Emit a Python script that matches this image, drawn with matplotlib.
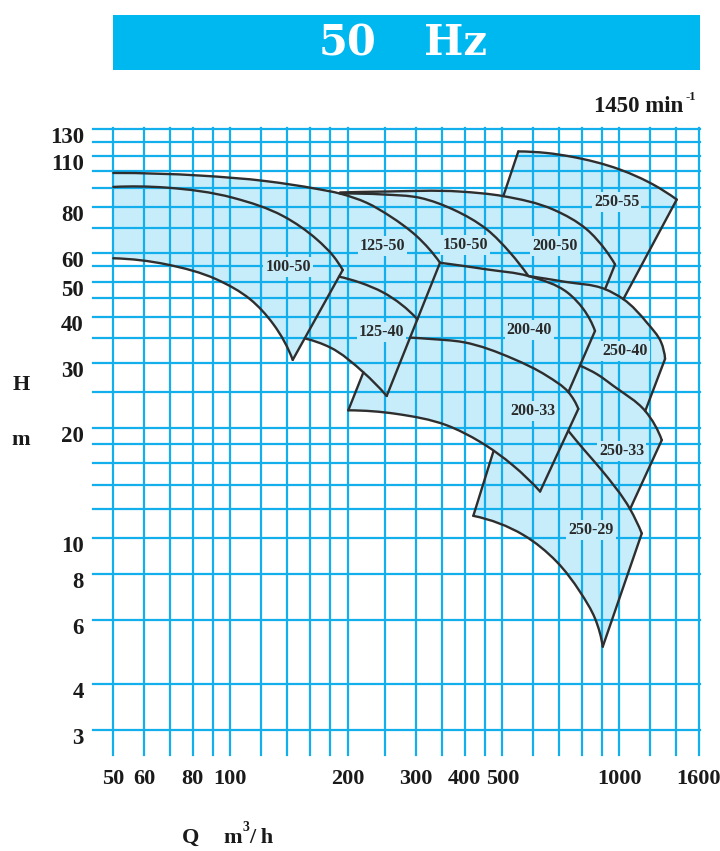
import numpy as np
import matplotlib
matplotlib.use("Agg")
import matplotlib.pyplot as plt
from matplotlib.patches import PathPatch, Rectangle
from matplotlib.path import Path

# ---------------------------------------------------------------- data
# grid lines and tick labels
q_grid = [50, 60, 70, 80, 90, 100, 120, 140, 160, 180, 200, 250, 300, 350,
          400, 450, 500, 600, 700, 800, 900, 1000, 1200, 1400, 1600]
h_grid = [3, 4, 6, 8, 10, 12, 14, 16, 18, 20, 25, 30, 35, 40, 45, 50, 55,
          60, 70, 80, 90, 100, 110, 120, 130]
q_ticks = [50, 60, 80, 100, 200, 300, 400, 500, 1000, 1600]
h_ticks = [3, 4, 6, 8, 10, 20, 30, 40, 50, 60, 80, 110, 130]

# H-Q boundary curves of the pump ranges (Q in m3/h, H in m)
q_top_125_50 = [50, 83.5, 124, 166.7, 191.3, 224.1, 257.2, 301.2, 345.8]
h_top_125_50 = [98.9, 97.3, 93.9, 89.5, 86.9, 82.0, 75.4, 66.5, 56.3]

q_top_100_50 = [50, 68.6, 101.7, 136.8, 166.7, 183.9, 194.4]
h_top_100_50 = [90.6, 90.2, 84.6, 75.4, 65.2, 58.7, 53.8]

q_bot_100_50 = [50, 68.6, 92.2, 112.3, 128.9, 144.6]
h_bot_100_50 = [57.9, 55.7, 50.7, 44.8, 38.3, 30.6]

q_top_125_40 = [190.2, 215.4, 247.2, 302.3]
h_top_125_40 = [51.6, 49.7, 46.7, 39.5]

q_bot_125_40 = [155.5, 180.3, 219.7, 252.2]
h_bot_125_40 = [35.0, 33.1, 28.3, 24.4]

q_top_150_50 = [191.3, 247.2, 307.2, 374.1, 456, 523.3, 583.2]
h_top_150_50 = [86.9, 86.4, 84.6, 78.6, 69.4, 60.0, 51.8]

q_top_200_50 = [191.3, 247.2, 389.3, 502.9, 676.1, 824.1, 918.4, 974.3]
h_top_200_50 = [87.5, 88.0, 88.0, 85.5, 78.6, 69.4, 61.2, 55.7]

q_top_200_40 = [345.8, 456, 583.2, 735.0, 807.6, 865.4]
h_top_200_40 = [56.3, 54.0, 51.8, 46.7, 42.1, 36.7]

q_top_250_40 = [583.2, 720.0, 918.4, 1023.4, 1175.5, 1279.4, 1310.1]
h_top_250_40 = [51.8, 50.0, 47.7, 44.8, 38.7, 34.2, 30.8]

q_top_250_55 = [549.6, 650.2, 746.5, 1003.7, 1222.4, 1403.6]
h_top_250_55 = [113.2, 112.1, 109.7, 101.0, 91.9, 83.7]

q_top_200_33 = [289.5, 326, 396.9, 533.7, 650.2, 739.2, 784.0]
h_top_200_33 = [35.2, 34.9, 34.2, 30.8, 27.7, 25.0, 22.5]

q_bot_200_33 = [200.9, 267.6, 359.8, 438.2, 533.7, 625.2]
h_bot_200_33 = [22.3, 21.8, 20.3, 18.3, 15.75, 13.4]

q_top_250_33 = [791.8, 874.3, 964.5, 1165.0, 1284.7]
h_top_250_33 = [29.5, 28.0, 26.0, 22.2, 18.5]

q_top_250_29 = [739.2, 807.6, 891.7, 1064.9, 1141.3]
h_top_250_29 = [19.6, 17.5, 15.5, 12.0, 10.3]

q_bot_250_29 = [421.1, 566.2, 690.0, 791.8, 865.4, 906.0]
h_bot_250_29 = [11.5, 10.2, 8.62, 7.14, 6.04, 5.06]

q_left_250_29 = [421.1, 474.0]
h_left_250_29 = [11.5, 17.2]

# pump size labels
pump_names = ["100-50", "125-50", "125-40", "150-50", "200-50", "250-55",
              "200-40", "250-40", "200-33", "250-33", "250-29"]
pump_q = [140.6, 246, 245, 401, 683, 984, 586, 1034, 601, 1014, 845]
pump_h = [54.7, 62.4, 36.5, 63.0, 62.4, 82.5, 36.9, 32.3, 22.2, 17.3, 10.5]

# ---------------------------------------------------------------- curves
CURVES = {
    "t125_50": (q_top_125_50, h_top_125_50),
    "t100_50": (q_top_100_50, h_top_100_50),
    "b100_50": (q_bot_100_50, h_bot_100_50),
    "t125_40": (q_top_125_40, h_top_125_40),
    "b125_40": (q_bot_125_40, h_bot_125_40),
    "t150_50": (q_top_150_50, h_top_150_50),
    "t200_50": (q_top_200_50, h_top_200_50),
    "t200_40": (q_top_200_40, h_top_200_40),
    "t250_40": (q_top_250_40, h_top_250_40),
    "t250_55": (q_top_250_55, h_top_250_55),
    "t200_33": (q_top_200_33, h_top_200_33),
    "b200_33": (q_bot_200_33, h_bot_200_33),
    "t250_33": (q_top_250_33, h_top_250_33),
    "t250_29": (q_top_250_29, h_top_250_29),
    "b250_29": (q_bot_250_29, h_bot_250_29),
    "l250_29": (q_left_250_29, h_left_250_29),
}


def _unit(v):
    return v / np.linalg.norm(v)


def bezier_segments(q, h):
    """Smooth cubic segments through the points (Bessel tangents, log-log)."""
    p = np.column_stack([np.log10(q), np.log10(h)])
    n = len(p)
    if n == 2:
        d = (p[1] - p[0]) / 3
        return p, [(p[0], p[0] + d, p[1] - d, p[1])]
    chords = [p[i + 1] - p[i] for i in range(n - 1)]
    lens = [np.linalg.norm(c) for c in chords]
    tang = [None] * n
    for i in range(1, n - 1):
        la, lb = lens[i - 1], lens[i]
        t = (lb * chords[i - 1] / la + la * chords[i] / lb) / (la + lb)
        tang[i] = _unit(t)
    tang[0] = _unit(2 * chords[0] / lens[0] - tang[1])
    tang[-1] = _unit(2 * chords[-1] / lens[-1] - tang[-2])
    segs = []
    for i in range(n - 1):
        L = lens[i] / 3
        segs.append((p[i], p[i] + tang[i] * L, p[i + 1] - tang[i + 1] * L,
                     p[i + 1]))
    return p, segs


SEGS = {k: bezier_segments(*v) for k, v in CURVES.items()}


def piece_path(name, a, b):
    pts, segs = SEGS[name]
    verts = [pts[a]]
    if a <= b:
        for i in range(a, b):
            s = segs[i]
            verts += [s[1], s[2], s[3]]
    else:
        for i in range(a - 1, b - 1, -1):
            s = segs[i]
            verts += [s[2], s[1], s[0]]
    return verts


def region_path(pieces):
    verts, codes = [], []
    for k, (name, a, b) in enumerate(pieces):
        v = piece_path(name, a, b)
        verts.append(v[0])
        codes.append(Path.MOVETO if k == 0 else Path.LINETO)
        verts += v[1:]
        codes += [Path.CURVE4] * (len(v) - 1)
    verts.append(verts[0])
    codes.append(Path.CLOSEPOLY)
    return Path(10 ** np.array(verts), codes)


def curve_path(name):
    pts, segs = SEGS[name]
    v = piece_path(name, 0, len(pts) - 1)
    codes = [Path.MOVETO] + [Path.CURVE4] * (len(v) - 1)
    return Path(10 ** np.array(v), codes)


# pump ranges as sequences of boundary pieces (curve, from index, to index)
REGIONS = [
    [("t100_50", 0, 6), ("b100_50", 5, 0)],
    [("t125_50", 0, 8), ("t125_40", 3, 0), ("t100_50", 6, 0)],
    [("t125_40", 0, 3), ("b125_40", 3, 0)],
    [("t150_50", 0, 6), ("t200_40", 2, 0), ("t125_50", 8, 4)],
    [("t200_50", 0, 7), ("t250_40", 2, 0), ("t150_50", 6, 0)],
    [("t250_55", 0, 5), ("t250_40", 3, 2), ("t200_50", 7, 3)],
    [("t200_40", 0, 5), ("t200_33", 5, 0)],
    [("t250_40", 0, 6), ("t250_33", 3, 0), ("t200_40", 5, 2)],
    [("b125_40", 2, 3), ("t200_33", 0, 6), ("b200_33", 5, 0)],
    [("t250_33", 0, 4), ("t250_29", 3, 0), ("t200_33", 6, 5)],
    [("l250_29", 0, 1), ("b200_33", 4, 5), ("t250_29", 0, 4),
     ("b250_29", 5, 0)],
]


def pt(name, i):
    q, h = CURVES[name]
    return q[i], h[i]


# straight limit lines between curve ends
EDGES = [
    (pt("t100_50", -1), pt("b100_50", -1)),
    (pt("t125_50", -1), pt("b125_40", -1)),
    (pt("t200_50", -1), pt("t250_40", 2)),
    (pt("t250_55", 0), pt("t200_50", 3)),
    (pt("t250_55", -1), pt("t250_40", 3)),
    (pt("t200_40", -1), pt("t200_33", 5)),
    (pt("t250_40", -1), pt("t250_33", 3)),
    (pt("t200_33", -1), pt("b200_33", -1)),
    (pt("b200_33", 0), pt("b125_40", 2)),
    (pt("t250_33", -1), pt("t250_29", 3)),
    (pt("t250_29", -1), pt("b250_29", -1)),
]

# ---------------------------------------------------------------- style
GRID = "#12AFEC"
FILL = "#C7EDFA"
EDGE = "#2E2E2E"
BANNER = "#00B8F0"
INK = "#1A1A1A"
SERIF = ["Liberation Serif", "DejaVu Serif"]

FW, FH = 720, 851
fig = plt.figure(figsize=(FW / 100, FH / 100), dpi=100)
fig.patch.set_facecolor("white")


def fx(px):
    return px / FW


def fy(py):
    return 1 - py / FH


ax_bottom_px, ax_top_px = 755.0, 127.8
ax_left_px, ax_right_px = 92.85, 699.9
ax = fig.add_axes([fx(ax_left_px), fy(ax_bottom_px),
                   (ax_right_px - ax_left_px) / FW,
                   (ax_bottom_px - ax_top_px) / FH])
ax.set_xscale("log")
ax.set_yscale("log")
ax.set_xlim(44.3, 1610)
ax.set_ylim(2.564, 131.3)
ax.axis("off")

# grid
for q in q_grid:
    ax.axvline(q, color=GRID, lw=1.6, zorder=2, clip_on=False)
for h in h_grid:
    ax.axhline(h, color=GRID, lw=1.6, zorder=2, clip_on=False)

# filled pump ranges
for pieces in REGIONS:
    ax.add_patch(PathPatch(region_path(pieces), facecolor=FILL,
                           edgecolor="none", zorder=1))

# outlines
for name in CURVES:
    ax.add_patch(PathPatch(curve_path(name), facecolor="none",
                           edgecolor=EDGE, lw=1.7, zorder=4,
                           capstyle="round", joinstyle="round"))
for a, b in EDGES:
    ax.plot([a[0], b[0]], [a[1], b[1]], color=EDGE, lw=1.7, zorder=4,
            solid_capstyle="round")

for name, q, h in zip(pump_names, pump_q, pump_h):
    ax.text(q, h, name, ha="center", va="center", fontsize=11.5,
            family=SERIF, weight="bold", color="#2A2A2A", zorder=3,
            bbox=dict(boxstyle="square,pad=0.12", fc=FILL, ec="none"))

# tick labels
for q in q_ticks:
    ax.annotate(str(q), xy=(q, 0), xycoords=("data", "axes fraction"),
                xytext=(0, -(784 - ax_bottom_px) * 0.72),
                textcoords="offset points", ha="center", va="baseline",
                fontsize=16, family=SERIF, weight="bold", color=INK,
                annotation_clip=False)
for h in h_ticks:
    ax.annotate(str(h), xy=(0, h), xycoords=("axes fraction", "data"),
                xytext=(-(ax_left_px - 84) * 0.72, -14 * 0.72),
                textcoords="offset points", ha="right", va="baseline",
                fontsize=16.5, family=SERIF, weight="bold", color=INK,
                annotation_clip=False)

# axis names
fig.text(fx(21), fy(385), "H", ha="center", va="center", fontsize=16,
         family=SERIF, weight="bold", color=INK)
fig.text(fx(21), fy(440), "m", ha="center", va="center", fontsize=16,
         family=SERIF, weight="bold", color=INK)
fig.text(fx(182), fy(843), "Q", ha="left", va="baseline", fontsize=16,
         family=SERIF, weight="bold", color=INK)
fig.text(fx(223), fy(843), "m", ha="left", va="baseline", fontsize=16,
         family=SERIF, weight="bold", color=INK)
fig.text(fx(242), fy(831), "3", ha="left", va="baseline", fontsize=10,
         family=SERIF, weight="bold", color=INK)
fig.text(fx(249), fy(843), "/ h", ha="left", va="baseline", fontsize=16,
         family=SERIF, weight="bold", color=INK)

# header banner and speed
fig.add_artist(Rectangle((fx(113), fy(70)), 587 / FW, 55 / FH,
                         transform=fig.transFigure, facecolor=BANNER,
                         edgecolor="none"))
fig.text(fx(348), fy(43), "50", ha="center", va="center", fontsize=30,
         family=["DejaVu Serif"], weight="bold", color="white")
fig.text(fx(456), fy(43), "Hz", ha="center", va="center", fontsize=30,
         family=["DejaVu Serif"], weight="bold", color="white")
fig.text(fx(683), fy(112), "1450 min", ha="right", va="baseline",
         fontsize=16.5, family=SERIF, weight="bold", color=INK)
fig.text(fx(685), fy(100), "-1", ha="left", va="baseline", fontsize=9,
         family=SERIF, weight="bold", color=INK)

fig.savefig("out.png", dpi=100, facecolor="white")
